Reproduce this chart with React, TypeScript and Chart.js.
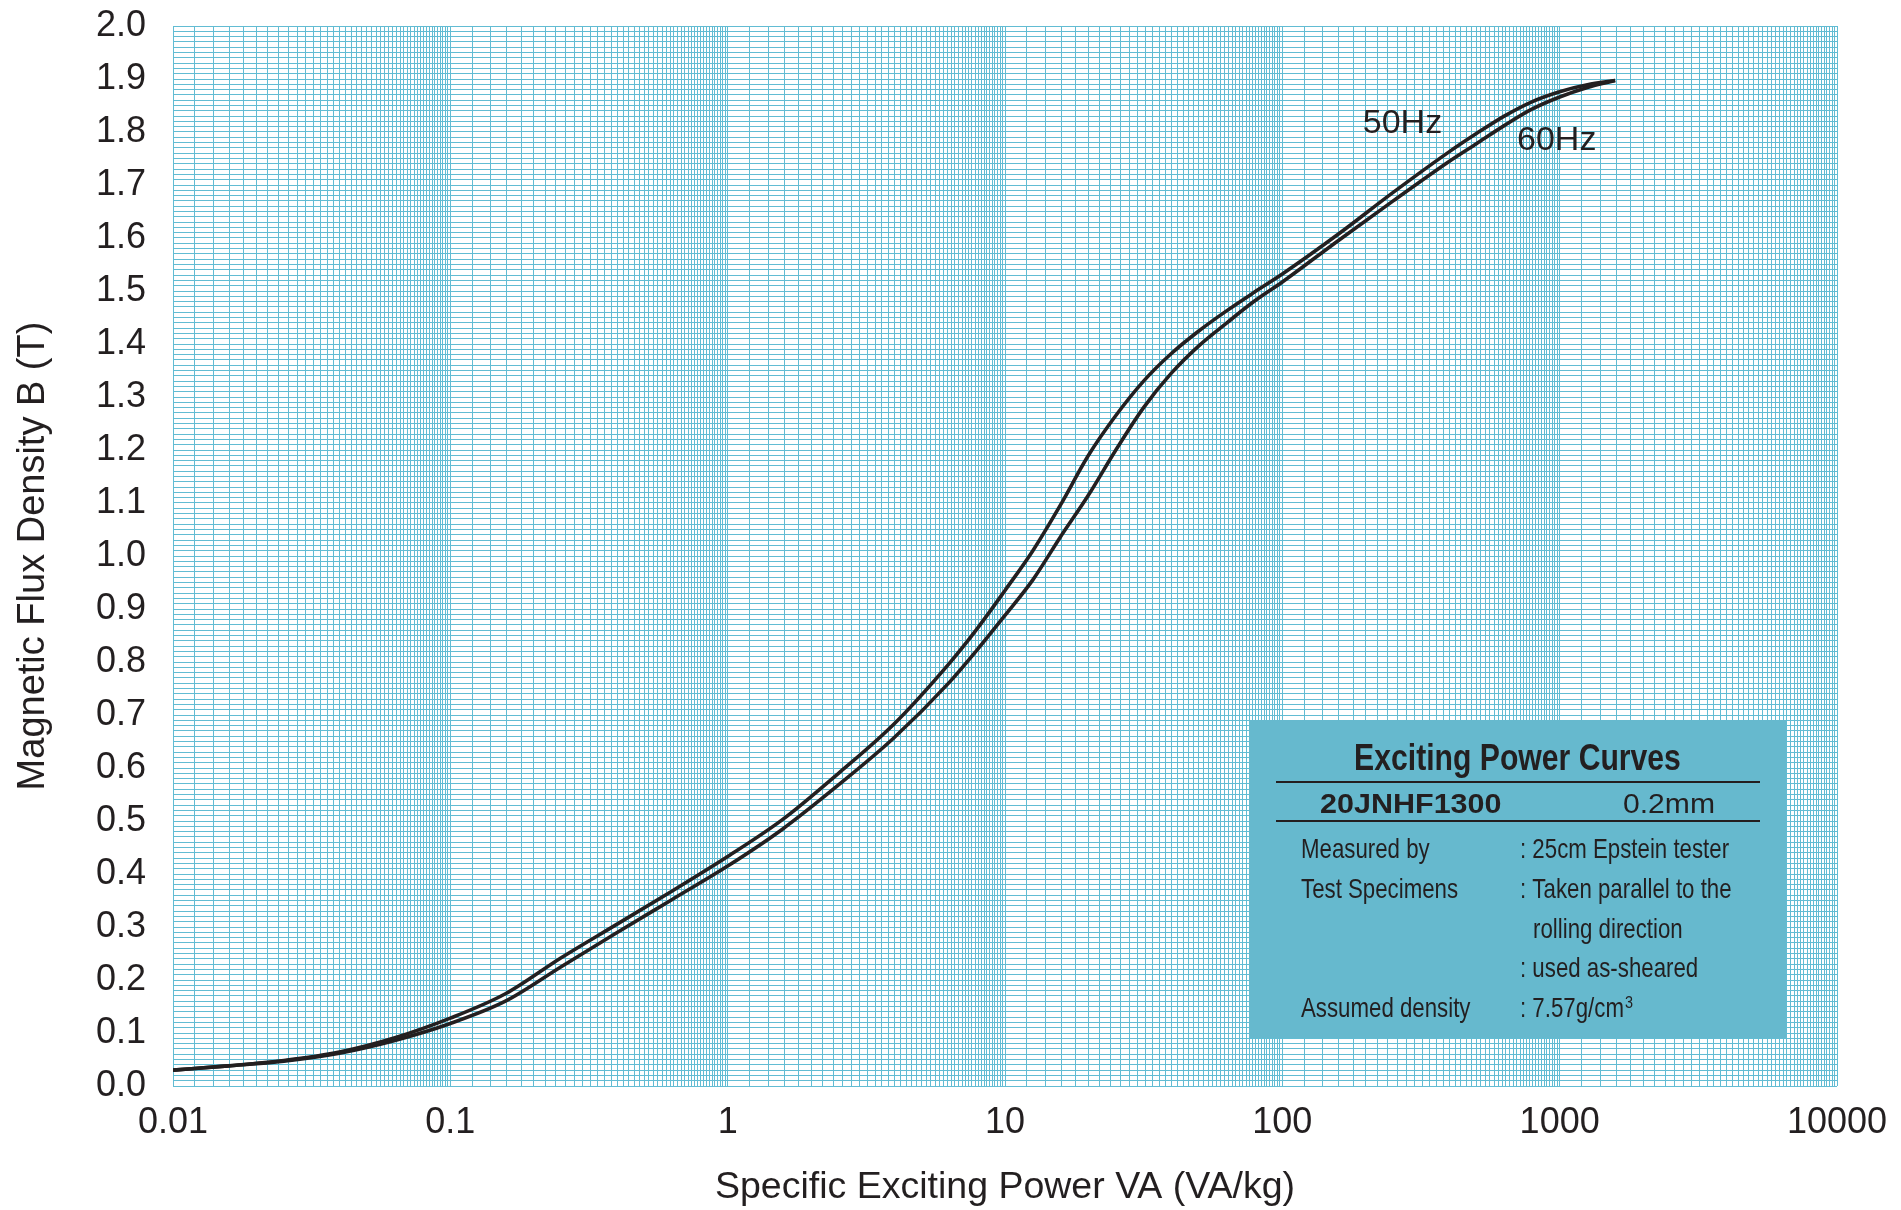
import React, { useEffect, useRef } from 'react';
import { Chart, registerables } from 'chart.js';

Chart.register(...registerables);

const powerVA = [0.01, 0.0158, 0.0251, 0.0398, 0.0631, 0.1, 0.158, 0.251, 0.398, 0.631, 1, 1.58, 2.51, 3.98, 6.31, 7.94, 10, 12.6, 15.8, 20, 25.1, 31.6, 39.8, 50.1, 63.1, 79.4, 100, 158, 251, 398, 501, 631, 794, 1000, 1259, 1585];
const b50Hz = [0.030, 0.038, 0.048, 0.064, 0.091, 0.128, 0.174, 0.242, 0.305, 0.368, 0.433, 0.503, 0.590, 0.683, 0.798, 0.863, 0.935, 1.010, 1.095, 1.190, 1.265, 1.330, 1.382, 1.425, 1.463, 1.498, 1.532, 1.606, 1.686, 1.762, 1.797, 1.830, 1.857, 1.876, 1.889, 1.897];
const b60Hz = [0.030, 0.038, 0.047, 0.062, 0.086, 0.118, 0.160, 0.225, 0.289, 0.352, 0.415, 0.485, 0.568, 0.657, 0.762, 0.823, 0.888, 0.955, 1.035, 1.115, 1.200, 1.280, 1.345, 1.397, 1.440, 1.481, 1.517, 1.594, 1.670, 1.744, 1.778, 1.812, 1.843, 1.866, 1.884, 1.897];
const seriesNames = ['50Hz', '60Hz'];

const xDecades = [0.01, 0.1, 1, 10, 100, 1000, 10000];
const xTickLabels = ['0.01', '0.1', '1', '10', '100', '1000', '10000'];
const yTickValues = [0, 0.1, 0.2, 0.3, 0.4, 0.5, 0.6, 0.7, 0.8, 0.9, 1.0, 1.1, 1.2, 1.3, 1.4, 1.5, 1.6, 1.7, 1.8, 1.9, 2.0];
const yTickLabels = ['0.0', '0.1', '0.2', '0.3', '0.4', '0.5', '0.6', '0.7', '0.8', '0.9', '1.0', '1.1', '1.2', '1.3', '1.4', '1.5', '1.6', '1.7', '1.8', '1.9', '2.0'];

const xTitle = 'Specific Exciting Power VA (VA/kg)';
const yTitle = 'Magnetic Flux Density B (T)';

const infoTitle = 'Exciting Power Curves';
const infoGrade = '20JNHF1300';
const infoThickness = '0.2mm';
const infoLabels = ['Measured by', 'Test Specimens', '', '', 'Assumed density'];
const infoValues = [': 25cm Epstein tester', ': Taken parallel to the', 'rolling direction', ': used as-sheared', ': 7.57g/cm'];
const infoSuperscript = '3';

// ---------- grid structure (log-paper rulings) ----------
const xGrid: number[] = [];
for (let d = 0; d < xDecades.length - 1; d++) {
  for (let k = 0; k < 45; k++) xGrid.push(xDecades[d] * (1 + 0.2 * k));
}
xGrid.push(xDecades[xDecades.length - 1]);
const yGrid: number[] = [];
for (let i = 0; i <= 200; i++) yGrid.push(i / 100);

// ---------- styles ----------
const FONT = '"Liberation Sans", Arial, Helvetica, sans-serif';
const TEXT = '#231f20';
const GRID = 'rgb(98,188,211)';
const BOX = '#66b9ce';

function scaledText(ctx: CanvasRenderingContext2D, text: string, x: number, y: number, sx: number, align: CanvasTextAlign) {
  ctx.save();
  ctx.translate(x, y);
  ctx.scale(sx, 1);
  ctx.textAlign = align;
  ctx.fillText(text, 0, 0);
  ctx.restore();
}

const annotPlugin = {
  id: 'annot',
  afterDatasetsDraw(chart: any) {
    const ctx: CanvasRenderingContext2D = chart.ctx;
    const xs = chart.scales.x;
    const ys = chart.scales.y;
    ctx.save();
    ctx.fillStyle = TEXT;
    ctx.textBaseline = 'alphabetic';
    ctx.textAlign = 'left';
    ctx.font = `34px ${FONT}`;
    ctx.fillText(seriesNames[0], xs.getPixelForValue(195), ys.getPixelForValue(1.798));
    ctx.fillText(seriesNames[1], xs.getPixelForValue(702), ys.getPixelForValue(1.766));

    // info box
    const bx = 1249, by = 720, bw = 537, bh = 318;
    ctx.fillStyle = BOX;
    ctx.fillRect(bx, by, bw, bh);
    ctx.fillStyle = TEXT;
    ctx.font = `bold 37px ${FONT}`;
    scaledText(ctx, infoTitle, bx + bw / 2, 770, 0.815, 'center');
    ctx.strokeStyle = TEXT;
    ctx.lineWidth = 2;
    ctx.beginPath();
    ctx.moveTo(1276, 782); ctx.lineTo(1760, 782);
    ctx.moveTo(1276, 821); ctx.lineTo(1760, 821);
    ctx.stroke();
    ctx.font = `bold 28px ${FONT}`;
    scaledText(ctx, infoGrade, 1320, 813, 1.09, 'left');
    ctx.font = `28px ${FONT}`;
    scaledText(ctx, infoThickness, 1623, 813, 1.075, 'left');

    ctx.font = `28px ${FONT}`;
    const sx = 0.795;
    for (let i = 0; i < infoLabels.length; i++) {
      const yb = 858 + i * 39.8;
      if (infoLabels[i]) scaledText(ctx, infoLabels[i], 1301, yb, sx, 'left');
      const v = infoValues[i];
      const vx = v.startsWith(':') ? 1520 : 1533;
      scaledText(ctx, v, vx, yb, sx, 'left');
      if (i === infoLabels.length - 1) {
        const w = ctx.measureText(v).width * sx;
        ctx.font = `17px ${FONT}`;
        scaledText(ctx, infoSuperscript, vx + w + 1, yb - 9, 0.85, 'left');
        ctx.font = `28px ${FONT}`;
      }
    }
    ctx.restore();
  },
};

export default function App() {
  const ref = useRef<HTMLCanvasElement | null>(null);
  useEffect(() => {
    if (!ref.current) return;
    const chart = new Chart(ref.current, {
      type: 'line',
      data: {
        datasets: [
          {
            label: seriesNames[0],
            data: powerVA.map((x, i) => ({ x, y: b50Hz[i] })),
            borderColor: TEXT,
            borderWidth: 3.6,
            pointRadius: 0,
            cubicInterpolationMode: 'monotone',
            fill: false,
          },
          {
            label: seriesNames[1],
            data: powerVA.map((x, i) => ({ x, y: b60Hz[i] })),
            borderColor: TEXT,
            borderWidth: 3.6,
            pointRadius: 0,
            cubicInterpolationMode: 'monotone',
            fill: false,
          },
        ],
      },
      options: {
        responsive: false,
        animation: false,
        devicePixelRatio: 1,
        layout: { padding: { top: 26, right: 64, bottom: 0, left: 0 } },
        plugins: { legend: { display: false }, tooltip: { enabled: false } },
        scales: {
          x: {
            type: 'logarithmic',
            min: 0.01,
            max: 10000,
            afterBuildTicks: (scale: any) => {
              scale.ticks = xGrid.map((v) => ({ value: v }));
            },
            afterFit: (scale: any) => {
              scale.height = 124;
              scale.paddingLeft = 0;
              scale.paddingRight = 0;
            },
            grid: { color: GRID, lineWidth: 1, drawTicks: false },
            border: { display: false },
            ticks: {
              autoSkip: false,
              maxRotation: 0,
              minRotation: 0,
              padding: 15,
              color: TEXT,
              font: { size: 36, family: FONT },
              callback: (v: any) => {
                const i = xDecades.findIndex((d) => Math.abs(Number(v) / d - 1) < 1e-6);
                return i >= 0 ? xTickLabels[i] : '';
              },
            },
            title: {
              display: true,
              text: xTitle,
              color: TEXT,
              font: { size: 37.5, family: FONT },
              padding: { top: 0, bottom: 0 },
            },
          },
          y: {
            type: 'linear',
            min: 0,
            max: 2,
            afterBuildTicks: (scale: any) => {
              scale.ticks = yGrid.map((v) => ({ value: v }));
            },
            afterFit: (scale: any) => {
              scale.width = 173;
              scale.paddingTop = 0;
              scale.paddingBottom = 0;
            },
            grid: { color: GRID, lineWidth: 1, drawTicks: false },
            border: { display: false },
            ticks: {
              autoSkip: false,
              padding: 27,
              color: TEXT,
              font: { size: 36, family: FONT },
              callback: (v: any) => {
                const i = yTickValues.findIndex((d) => Math.abs(Number(v) - d) < 1e-6);
                return i >= 0 ? yTickLabels[i] : '';
              },
            },
            title: {
              display: true,
              text: yTitle,
              color: TEXT,
              font: { size: 38, family: FONT },
              padding: { top: 11, bottom: 0 },
            },
          },
        },
      },
      plugins: [annotPlugin],
    } as any);
    return () => chart.destroy();
  }, []);
  return (
    <div style={{ position: 'absolute', left: 0, top: 0, width: 1901, height: 1210, background: '#fff' }}>
      <canvas ref={ref} width={1901} height={1210} />
    </div>
  );
}
